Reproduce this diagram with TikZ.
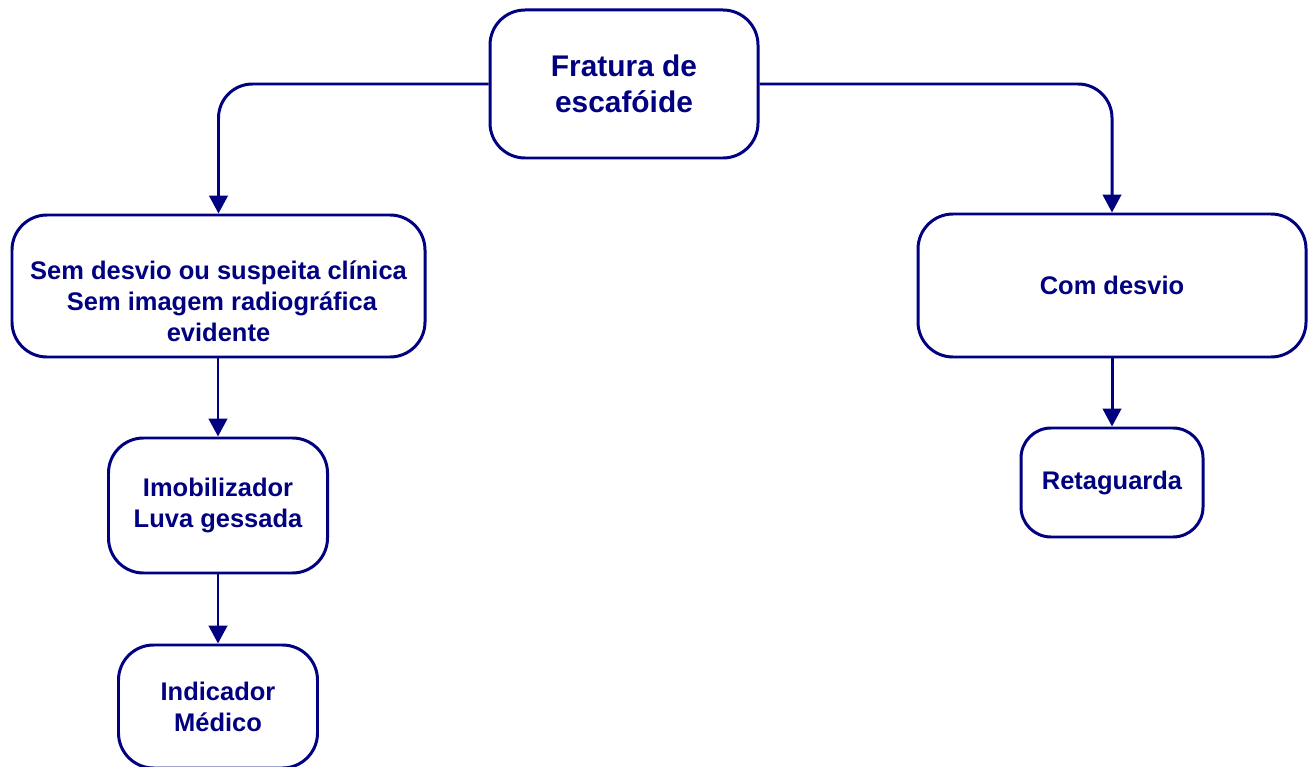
\documentclass[tikz,border=0pt]{standalone}
\usepackage{fontspec}
\setmainfont{Liberation Sans}
\usepackage{tikz}
\usetikzlibrary{positioning,arrows.meta}
\definecolor{navyline}{RGB}{0,0,128}

\begin{document}
\begin{tikzpicture}[
    box/.style={draw=navyline,line width=1.7pt,rounded corners=0.7cm,align=center,
      text=navyline,font=\fontsize{14.5}{17.6}\selectfont\bfseries},
    conn/.style={draw=navyline,line width=1.7pt,rounded corners=0.68cm,
      -{Triangle[length=0.36cm,width=0.37cm]}}]
  \useasboundingbox (0,0) rectangle (26.28,-15.34);

  \node (frat) [box,minimum width=5.36cm,minimum height=2.96cm,
    font=\fontsize{17}{20.4}\selectfont\bfseries] at (12.48,-1.68) {Fratura de\\escafóide};
  \node (semd) [box,minimum width=8.26cm,minimum height=2.84cm] at (4.37,-5.72) {};
  \node (semdtxt) [box,draw=none] at ([yshift=-0.3cm]semd.center)
    {Sem desvio ou suspeita clínica\\ \ Sem imagem radiográfica\\evidente};
  \node (comd) [box,minimum width=7.76cm,minimum height=2.86cm] at (22.24,-5.71) {Com desvio};
  \node (imob) [box,minimum width=4.38cm,minimum height=2.7cm] at (4.36,-10.11) {Imobilizador\\Luva gessada};
  \node (indic) [box,minimum width=3.98cm,minimum height=2.46cm] at (4.36,-14.13) {Indicador\\Médico};
  \node (retag) [box,minimum width=3.64cm,minimum height=2.18cm,rounded corners=0.6cm]
    at (22.24,-9.65) {Retaguarda};

  \draw [conn] (frat.west) -| (semd.north);
  \draw [conn] (frat.east) -| (comd.north);
  \draw [conn] (semd.south -| imob.north) to (imob.north);
  \draw [conn] (imob) to (indic);
  \draw [conn] (comd) to (retag);
\end{tikzpicture}
\end{document}
